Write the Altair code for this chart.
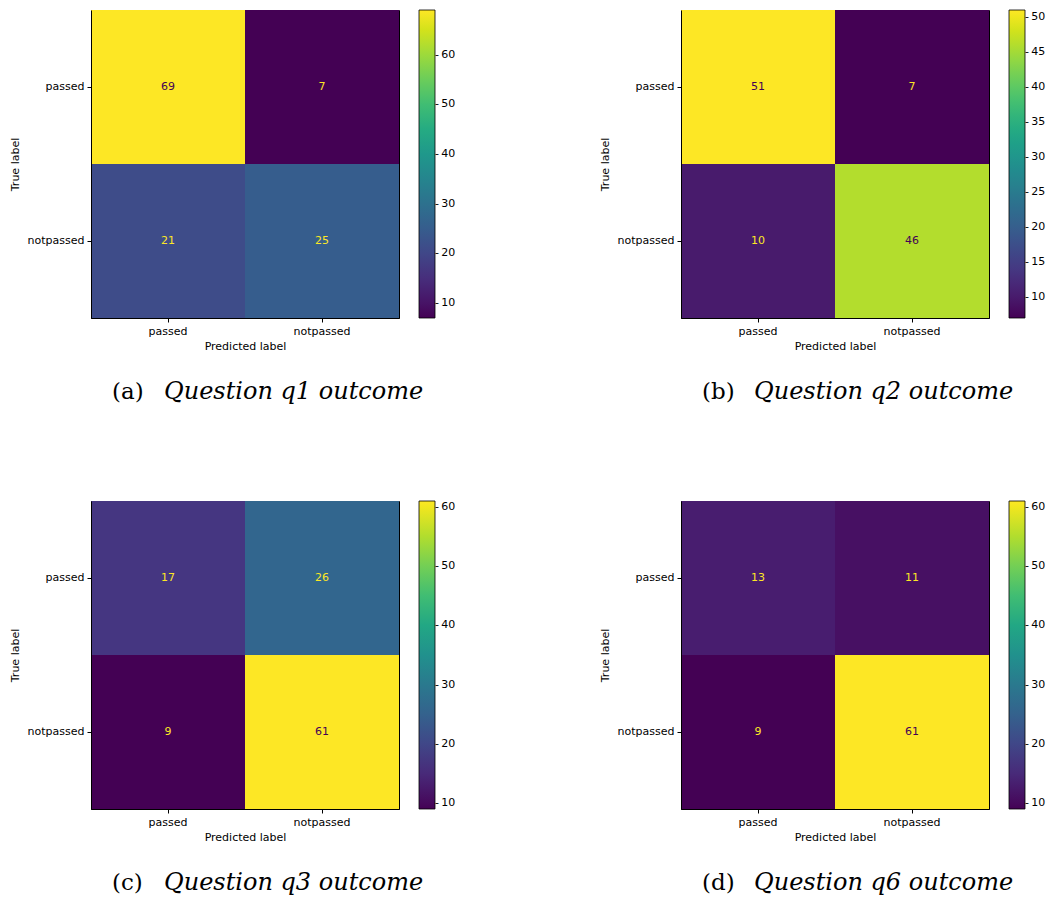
import altair as alt
import pandas as pd

classes = ["passed", "notpassed"]
prefixes = ["(a)", "(b)", "(c)", "(d)"]
captions = ["Question q1 outcome", "Question q2 outcome", "Question q3 outcome", "Question q6 outcome"]
matrix_a = [[69, 7], [21, 25]]
matrix_b = [[51, 7], [10, 46]]
matrix_c = [[17, 26], [9, 61]]
matrix_d = [[13, 11], [9, 61]]
ticks_a = [10, 20, 30, 40, 50, 60]
ticks_b = [10, 15, 20, 25, 30, 35, 40, 45, 50]
ticks_c = [10, 20, 30, 40, 50, 60]
ticks_d = [10, 20, 30, 40, 50, 60]

matrices = [matrix_a, matrix_b, matrix_c, matrix_d]
ticks = [ticks_a, ticks_b, ticks_c, ticks_d]

W, H = 308, 308
DARK = "#440154"
LIGHT = "#fde725"


def panel(m, tv, prefix, cap):
    rows = []
    vals = [v for r in m for v in r]
    mn, mx = min(vals), max(vals)
    thr = (mn + mx) / 2
    for i, t in enumerate(classes):
        for j, p in enumerate(classes):
            v = m[i][j]
            rows.append({"true": t, "pred": p, "value": v, "bright": 1 if v > thr else 0})
    df = pd.DataFrame(rows)
    base = alt.Chart(df)
    x = alt.X("pred:N", sort=classes, title="Predicted label",
              scale=alt.Scale(paddingInner=0, paddingOuter=0),
              axis=alt.Axis(labelAngle=0, titlePadding=4))
    y = alt.Y("true:N", sort=classes, title="True label",
              scale=alt.Scale(paddingInner=0, paddingOuter=0),
              axis=alt.Axis(titlePadding=7))
    rect = base.mark_rect().encode(
        x=x, y=y,
        color=alt.Color("value:Q",
                        scale=alt.Scale(scheme="viridis", domain=[mn, mx]),
                        legend=alt.Legend(values=tv, title=None,
                                          gradientLength=H, gradientThickness=16,
                                          offset=20, labelOffset=0,
                                          labelExpr="'-\u2009' + datum.label",
                                          labelOverlap=False,
                                          gradientStrokeColor="black",
                                          gradientStrokeWidth=0.8,
                                          labelFontSize=11, labelFont="DejaVu Sans",
                                          labelColor="black")))
    txt_dark = base.transform_filter("datum.bright == 1").mark_text(
        fontSize=11, font="DejaVu Sans", color=DARK).encode(x=x, y=y, text="value:Q")
    txt_light = base.transform_filter("datum.bright == 0").mark_text(
        fontSize=11, font="DejaVu Sans", color=LIGHT).encode(x=x, y=y, text="value:Q")
    cdf = pd.DataFrame([{"p": prefix, "c": cap}])
    c1 = alt.Chart(cdf).mark_text(font="DejaVu Serif", fontSize=23, align="left",
                                  baseline="alphabetic", color="black").encode(
        text="p:N", x=alt.value(21), y=alt.value(389))
    c2 = alt.Chart(cdf).mark_text(font="DejaVu Serif", fontSize=24, fontStyle="italic",
                                  align="left", baseline="alphabetic", color="black").encode(
        text="c:N", x=alt.value(73), y=alt.value(389))
    return alt.layer(rect, txt_dark, txt_light, c1, c2).properties(width=W, height=H)


panels = [panel(m, t, p, c) for m, t, p, c in zip(matrices, ticks, prefixes, captions)]

chart = alt.concat(*panels, columns=2, bounds="flush",
                   spacing={"row": 183, "column": 282}).resolve_scale(
    color="independent").resolve_legend(color="independent").properties(
    padding={"left": 0, "top": 1, "right": 0, "bottom": 0}
).configure_view(stroke="black", strokeWidth=1).configure_axis(
    labelFont="DejaVu Sans", labelFontSize=11, labelColor="black",
    titleFont="DejaVu Sans", titleFontSize=11, titleFontWeight="normal", titleColor="black",
    tickColor="black", domainColor="black", tickSize=4, labelPadding=3, grid=False
)

chart.save("out.html", embed_options={"renderer": "svg", "actions": False})
